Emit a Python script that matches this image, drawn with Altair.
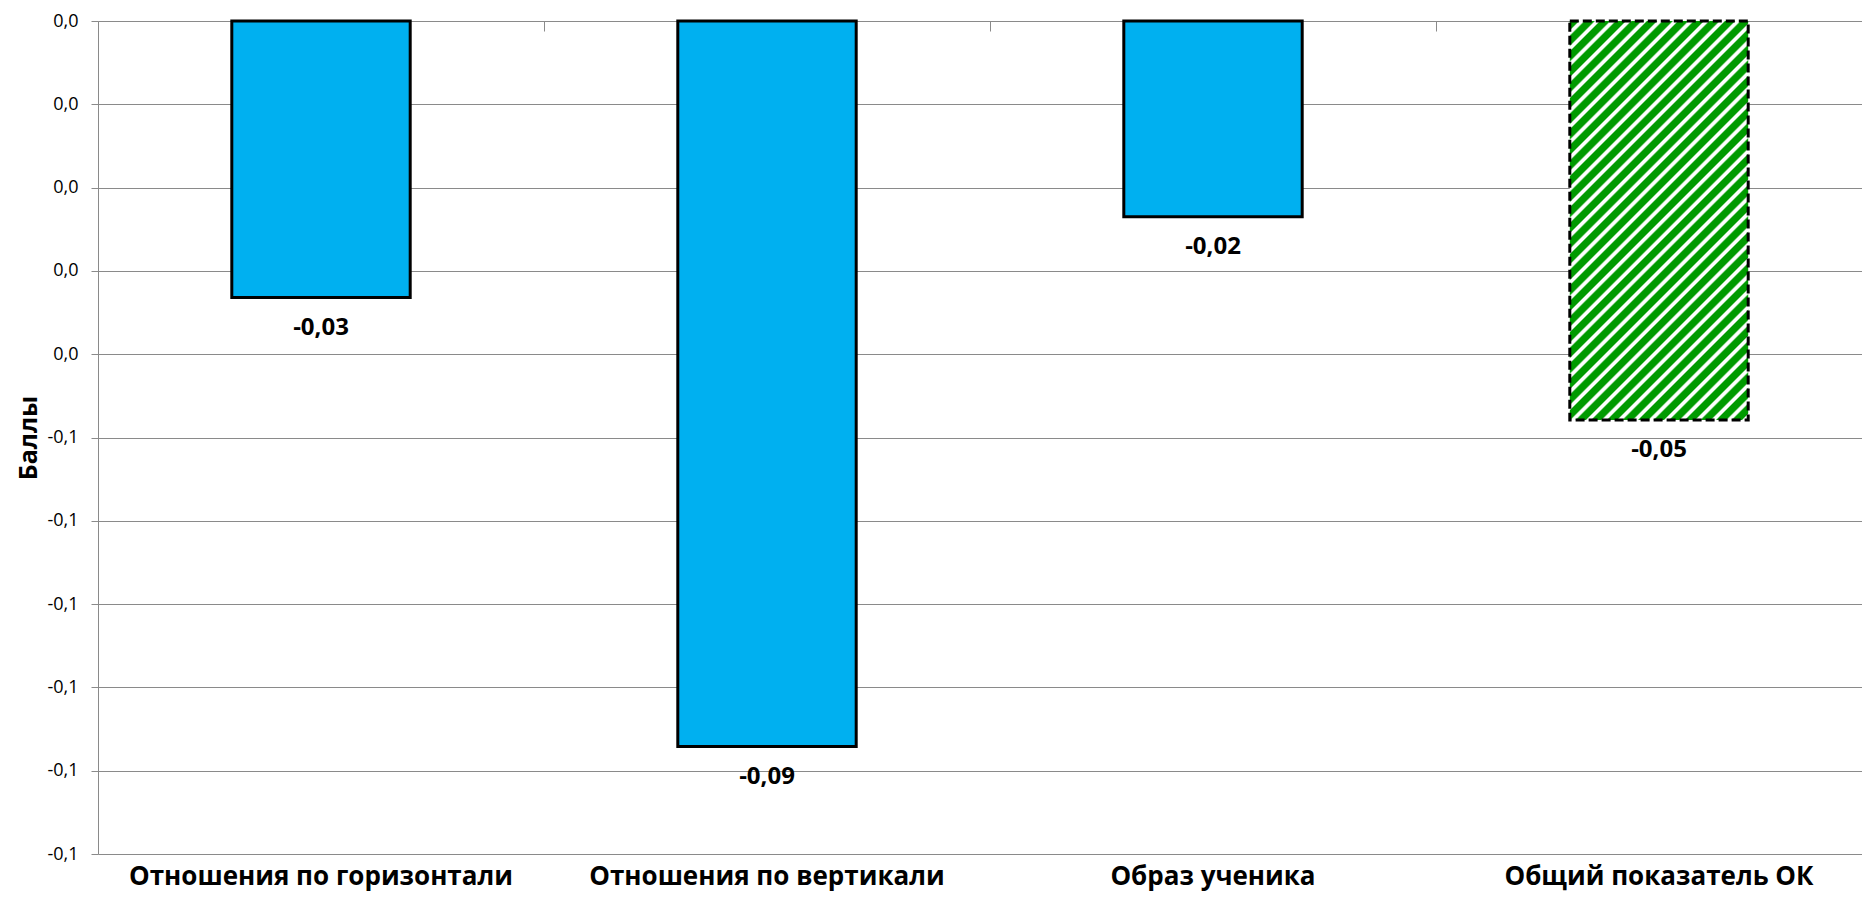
import altair as alt
import pandas as pd

# ---- data ----
categories = [
    "Отношения по горизонтали",
    "Отношения по вертикали",
    "Образ ученика",
    "Общий показатель ОК",
]
values = [-0.0332, -0.0871, -0.0235, -0.0479]
total_category = "Общий показатель ОК"
y_ticks = [0.0, -0.01, -0.02, -0.03, -0.04, -0.05, -0.06, -0.07, -0.08, -0.09, -0.1]

df = pd.DataFrame({"category": categories, "value": values})

# ---- layout / style ----
FONT = "Open Sans"
PLOT_W = 1764
RANGE_W = 1784
PLOT_H = 833
GRID = "#8a8a8a"
BLUE = "#00B0F0"
GREEN = "#009a00"

# striped (hatched) fill for the total bar, built as a linear gradient with
# iso-lines running at 45 degrees in pixel space
bar_w = 0.4 * RANGE_W / 4
bar_h = abs(values[-1]) / 0.1 * PLOT_H
r = bar_h / bar_w
s = (1 + r) / (1 + r * r)
n_stripes = int(round((bar_w + bar_h) / 2 ** 0.5 / 11))
stops = []
for k in range(n_stripes):
    b = k / n_stripes
    for frac, col in [(0.0, GREEN), (0.54, GREEN), (0.66, "#ffffff"), (0.88, "#ffffff")]:
        stops.append(alt.GradientStop(offset=round(b + frac / n_stripes, 6), color=col))
stops.append(alt.GradientStop(offset=1.0, color=GREEN))
stripe_fill = alt.LinearGradient(
    gradient="linear", stops=stops, x1=0, y1=0, x2=round(s, 6), y2=round(s * r, 6)
)

label_expr_axis = "replace(replace(format(datum.value, '.1f'), '.', ','), '\u2212', '-')"

x_scale = alt.Scale(range=[0, RANGE_W], paddingInner=0, paddingOuter=0)

y_enc = alt.Y(
    "value:Q",
    scale=alt.Scale(domain=[-0.1, 0], nice=False),
    axis=alt.Axis(
        values=y_ticks,
        labelExpr=label_expr_axis,
        grid=True,
        gridColor=GRID,
        gridWidth=1,
        domainColor=GRID,
        domainWidth=1,
        tickColor=GRID,
        tickSize=7,
        labelPadding=13,
        labelFont=FONT,
        labelFontSize=18,
        labelColor="#000000",
        title="Баллы",
        titleFont=FONT,
        titleFontSize=25,
        titleFontWeight="bold",
        titleColor="#000000",
        titleX=-62,
        titleBaseline="alphabetic",
    ),
)

x_bottom = alt.X(
    "category:N",
    sort=categories,
    scale=x_scale,
    axis=alt.Axis(
        orient="bottom",
        title=None,
        domain=False,
        ticks=False,
        tickSize=0,
        grid=False,
        labelAngle=0,
        labelFont=FONT,
        labelFontSize=26,
        labelFontWeight="bold",
        labelColor="#000000",
        labelPadding=30,
        labelBaseline="alphabetic",
        labelLimit=0,
    ),
)

x_top = alt.X(
    "category:N",
    sort=categories,
    scale=x_scale,
    axis=alt.Axis(
        orient="top",
        title=None,
        offset=-10,
        domain=False,
        labels=False,
        ticks=True,
        tickSize=10,
        tickBand="extent",
        tickColor=GRID,
        tickWidth=1,
        grid=False,
    ),
)

x_none = alt.X("category:N", sort=categories, scale=x_scale, axis=None)

base = alt.Chart(df)

blue_bars = base.transform_filter(
    alt.datum.category != total_category
).mark_bar(
    fill=BLUE, stroke="#000000", strokeWidth=3, width=alt.RelativeBandSize(band=0.4)
).encode(x=x_bottom, y=y_enc)

total_bar = base.transform_filter(
    alt.datum.category == total_category
).mark_bar(
    fill=stripe_fill,
    stroke="#000000",
    strokeWidth=3,
    strokeDash=[9, 4],
    width=alt.RelativeBandSize(band=0.4),
).encode(x=x_top, y=y_enc)

labels = base.transform_calculate(
    label="replace(replace(format(datum.value, '.2f'), '.', ','), '\u2212', '-')"
).mark_text(
    dy=30, font=FONT, fontSize=24, fontWeight="bold", color="#000000", baseline="middle"
).encode(x=x_none, y=y_enc, text="label:N")

chart = alt.layer(blue_bars, total_bar, labels).resolve_axis(
    x="independent"
).properties(
    width=PLOT_W,
    height=PLOT_H,
    autosize=alt.AutoSizeParams(type="none"),
    padding={"left": 90, "top": 13, "right": 0, "bottom": 41},
    background="#ffffff",
).configure_view(stroke=None)

chart.save("out.html", embed_options={"renderer": "svg", "actions": False})
